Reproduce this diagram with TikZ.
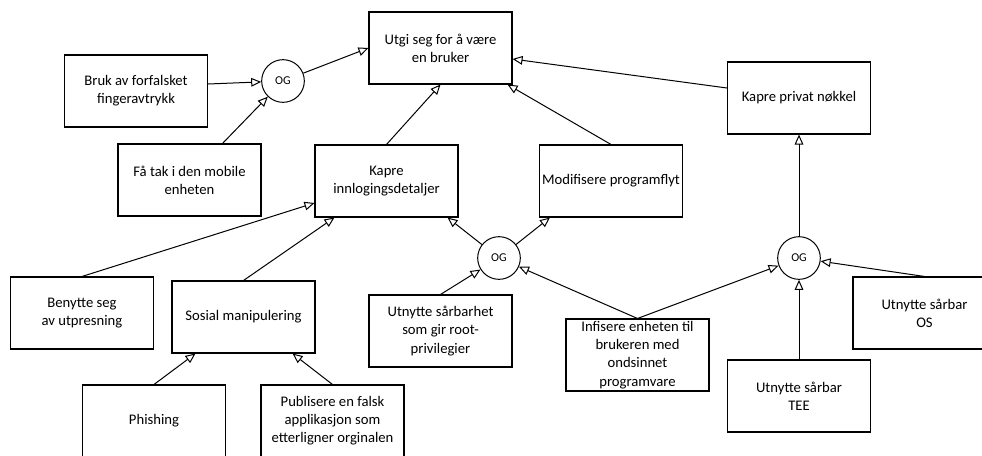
\documentclass[tikz,border=0pt]{standalone}
\usepackage{fontspec}
\setmainfont{Carlito}
\usetikzlibrary{arrows.meta,calc}
\begin{document}
\begin{tikzpicture}[x=0.75pt,y=-0.75pt,
  box/.style={draw,line width=0.8pt,minimum width=107.25pt,minimum height=54pt,
    inner sep=0pt,align=center,font=\fontsize{11}{13.6}\selectfont},
  gate/.style={draw,circle,line width=0.75pt,minimum size=32pt,inner sep=0pt,
    font=\fontsize{9}{11}\selectfont},
  link/.style={line width=0.75pt,-{Triangle[open,length=7.5pt,width=6.5pt]}}]
\useasboundingbox (0,0) rectangle (982,455);
\clip (0,0) rectangle (982,455);

% goal and sub-goals
\node[box] (utgi)     at (440.5,48)  {Utgi seg for å være\\en bruker};
\node[box] (bruk)     at (136,91)    {Bruk av forfalsket\\fingeravtrykk};
\node[gate] (og1)     at (283,81)    {OG};
\node[box] (fatak)    at (189.5,180) {Få tak i den mobile\\enheten};
\node[box] (kinn)     at (386.5,181) {Kapre\\innlogingsdetaljer};
\node[box] (modif)    at (611,181)   {Modifisere programflyt};
\node[box] (kprivat)  at (799,98)    {Kapre privat nøkkel};
\node[box] (benytte)  at (82,313)    {Benytte seg\\av utpresning};
\node[box] (sosial)   at (243.5,317) {Sosial manipulering};
\node[box] (phishing) at (154,421)   {Phishing};
\node[box] (publ)     at (332.5,421) {Publisere en falsk\\applikasjon som\\etterligner orginalen};
\node[gate] (og2)     at (499,258)   {OG};
\node[box] (root)     at (440.5,331) {Utnytte sårbarhet\\som gir root-\\privilegier};
\node[box] (infis)    at (637.5,355) {Infisere enheten til\\brukeren med\\ondsinnet\\programvare};
\node[gate] (og3)     at (799,258)   {OG};
\node[box] (os)       at (924.5,313) {Utnytte sårbar\\OS};
\node[box] (tee)      at (799,396)   {Utnytte sårbar\\TEE};

% connectors
\draw[link] ($(bruk.east)+(0,-7)$) -- (og1);
\draw[link] ($(fatak.north)+(33,0)$) -- (og1);
\draw[link] (og1) -- (utgi.west);
\draw[link] (kinn.north) -- (utgi.south);
\draw[link] (modif.north) -- ($(utgi.south east)+(-5,0)$);
\draw[link] ($(kprivat.west)+(0,-10)$) -- ($(utgi.east)+(0,11)$);
\draw[link] (og3) -- (kprivat.south);
\draw[link] (benytte.north) -- ($(kinn.west)+(0,22)$);
\draw[link] (sosial.north) -- ($(kinn.south west)+(20,0)$);
\draw[link] (phishing.north) -- ($(sosial.south west)+(24,0)$);
\draw[link] (publ.north) -- ($(sosial.south east)+(-23,0)$);
\draw[link] (og2) -- ($(kinn.south east)+(-11,0)$);
\draw[link] (og2) -- ($(modif.south west)+(11,0)$);
\draw[link] (root.north) -- (og2);
\draw[link] (infis.north) -- (og2);
\draw[link] (infis.north) -- (og3);
\draw[link] (tee.north) -- (og3);
\draw[link] (os.north) -- (og3);
\end{tikzpicture}
\end{document}
